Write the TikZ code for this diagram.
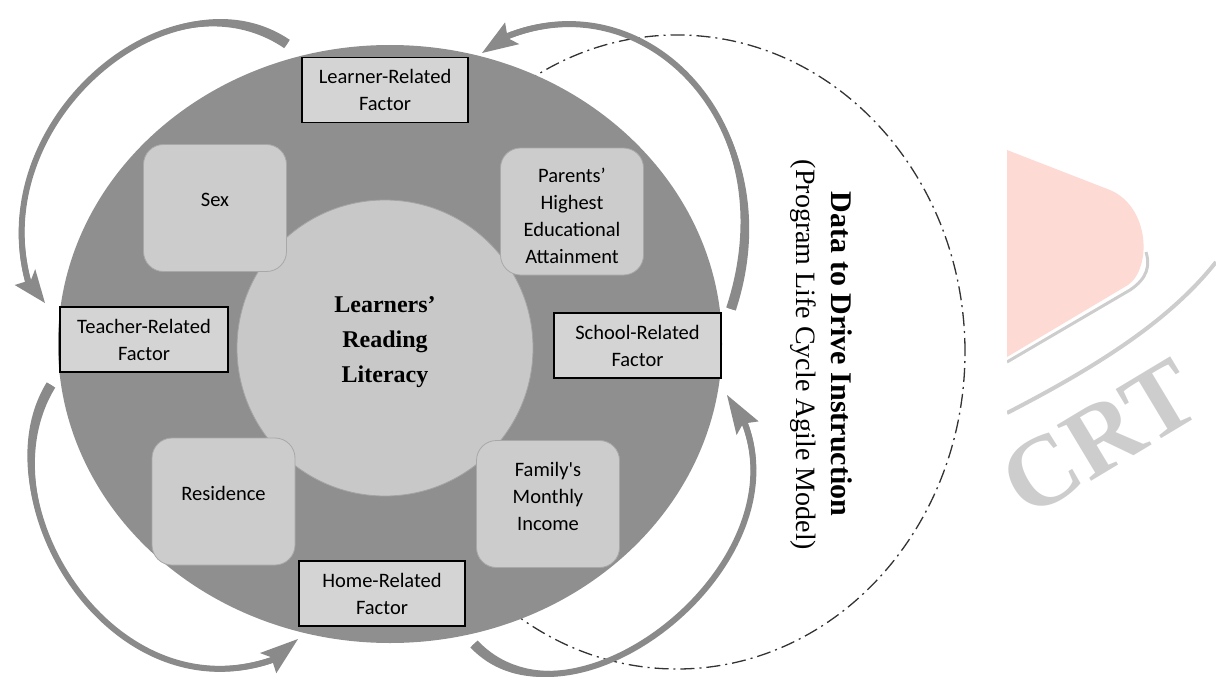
\documentclass[tikz,border=0pt]{standalone}
\usepackage{fontspec}
\setmainfont{Liberation Serif}
\newfontfamily\boxfont{Carlito}
\usetikzlibrary{calc,shapes.geometric}

\definecolor{discgray}{HTML}{8F8F8F}
\definecolor{coregray}{HTML}{C8C8C8}
\definecolor{coreedge}{HTML}{A4A4A4}
\definecolor{softgray}{HTML}{CCCCCC}
\definecolor{softedge}{HTML}{A8A8A8}
\definecolor{rectgray}{HTML}{D4D4D4}
\definecolor{arrowgray}{HTML}{8A8A8A}
\definecolor{ringgray}{HTML}{333333}
\definecolor{wmpink}{HTML}{FDDAD3}
\definecolor{wmgray}{HTML}{CDCDCD}

% Tapered curved arrow: cubic centre line #1..#4, notched head whose tip is #5
\newcommand\loopband[5]{%
  \coordinate (a0) at #1; \coordinate (a1) at #2;
  \coordinate (a2) at #3; \coordinate (a3) at #4;
  \coordinate (tip) at #5;
  \coordinate (tl) at ($(a0)!5pt!90:(a1)$);
  \coordinate (tr) at ($(a0)!5pt!-90:(a1)$);
  \coordinate (hl) at ($(a3)!3pt!-90:(a2)$);
  \coordinate (hr) at ($(a3)!3pt!90:(a2)$);
  \coordinate (cl1) at ($(a1)+(tl)-(a0)$);
  \coordinate (cr1) at ($(a1)+(tr)-(a0)$);
  \coordinate (cl2) at ($(a2)+(hl)-(a3)$);
  \coordinate (cr2) at ($(a2)+(hr)-(a3)$);
  \coordinate (bb) at ($(a3)!-5pt!(tip)$);
  \coordinate (bl) at ($(bb)!13pt!90:(tip)$);
  \coordinate (br) at ($(bb)!13pt!-90:(tip)$);
  \draw[arrowgray, line width=6pt] (a0) .. controls (a1) and (a2) .. (a3);
  \fill[arrowgray] (tl) .. controls (cl1) and (cl2) .. (hl) -- (bl) -- (tip)
    -- (br) -- (hr) .. controls (cr2) and (cr1) .. (tr) -- cycle;
}

\begin{document}
\begin{tikzpicture}[x=1pt,y=-1pt,
  boxtext/.style={font=\boxfont\fontsize{20.5}{27}\selectfont, align=center},
  factorbox/.style={draw=black, line width=1.6pt, fill=rectgray,
    minimum width=166pt, minimum height=65pt, inner sep=0pt, boxtext},
  softbox/.style={draw=softedge, line width=0.8pt, fill=softgray,
    rounded corners=20pt, minimum width=143pt, minimum height=127pt, inner sep=0pt},
  ring/.style={draw=ringgray, line width=1.3pt,
    dash pattern=on 14pt off 5pt on 2pt off 5pt}
]
\useasboundingbox (0,0) rectangle (1216,677);

% watermark in the right margin
\begin{scope}
  \clip (1007,0) rectangle (1216,677);
  \fill[wmpink] (1007,150) -- (1110,190) .. controls (1150,207) and (1152,268) .. (1128,285)
    -- (1007,357) -- cycle;
  \draw[wmgray, line width=3pt] (1007,362) -- (1130,290) .. controls (1148,278) and (1150,265) .. (1146,252);
  \draw[wmgray, line width=4pt] (1007,413) .. controls (1100,365) and (1170,320) .. (1216,262);
  \node[rotate=31, text=wmgray, font=\bfseries\fontsize{100}{100}\selectfont, inner sep=0pt]
    (wmtext) at (1100,438) {CRT};
\end{scope}

% dash-dot cycle ring behind the main disc
\node[ellipse, ring, minimum width=576pt, minimum height=634pt, inner sep=0pt] (cyclering) at (677,352) {};

% main disc and core
\node[ellipse, fill=discgray, minimum width=664pt, minimum height=598pt, inner sep=0pt] (disc) at (390,344) {};
\node[circle, fill=coregray, draw=coreedge, line width=0.8pt, minimum size=296pt, inner sep=0pt,
  label={[font=\bfseries\fontsize{24}{35}\selectfont, align=center, yshift=6pt]center:Learners’\\Reading\\Literacy}]
  (core) at (385,348) {};

% variables
\node[softbox, label={[boxtext, yshift=8pt]center:Sex}] (sex) at (215,208) {};
\node[softbox, label={[boxtext, yshift=-4pt]center:Parents’\\Highest\\Educational\\Attainment}] (parents) at (572,211.5) {};
\node[softbox, label={[boxtext, yshift=8pt]center:Residence}] (residence) at (223.5,501.5) {};
\node[softbox, label={[boxtext, yshift=8pt]center:Family\textquotesingle s\\Monthly\\Income}] (income) at (548,504) {};

% factor labels
\node[factorbox] (learner) at (385,90) {Learner-Related\\Factor};
\node[factorbox, minimum width=168pt] (teacher) at (144,339.5) {Teacher-Related\\Factor};
\node[factorbox, minimum width=167pt] (school) at (637.5,345.5) {School-Related\\Factor};
\node[factorbox] (home) at (382,593.5) {Home-Related\\Factor};

% vertical caption
\node[rotate=-90, font=\bfseries\fontsize{30}{36}\selectfont, inner sep=0pt] (title) at (842,354) {Data to Drive Instruction};
\node[rotate=-90, font=\fontsize{28}{34}\selectfont, inner sep=0pt] (subtitle) at (803,355) {(Program Life Cycle Agile Model)};

% cycle arrows
\loopband{(287,44)}{(170,-35)}{(-15,120)}{(28,281)}{(45,303)}
\loopband{(731,309)}{(790,130)}{(650,-20)}{(508,36)}{(482,53)}
\loopband{(51,385)}{(-20,500)}{(110,715)}{(272,660)}{(298,639)}
\loopband{(474,644)}{(570,745)}{(800,570)}{(745,424)}{(727,395)}
\end{tikzpicture}
\end{document}
